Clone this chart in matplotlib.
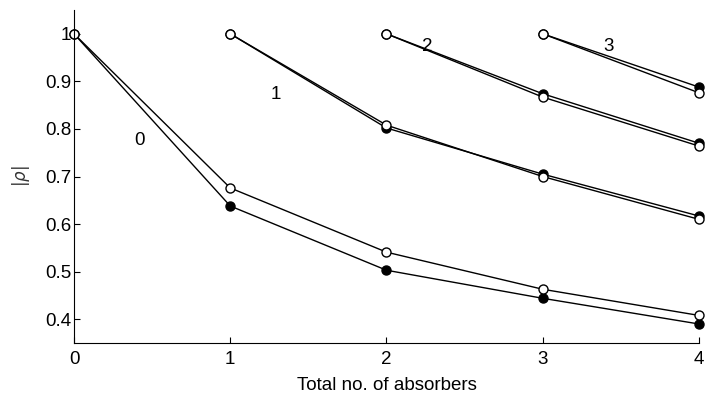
import matplotlib.pyplot as plt

plt.rcParams['font.family'] = ['Liberation Sans', 'DejaVu Sans']
plt.rcParams['font.size'] = 13.5

# curves start at x = n with |rho| = 1 ; filled and open markers
starts = [0, 1, 2, 3]
filled = [
    [1.0, 0.638, 0.503, 0.444, 0.390],
    [1.0, 0.802, 0.705, 0.617],
    [1.0, 0.874, 0.770],
    [1.0, 0.888],
]
opened = [
    [1.0, 0.676, 0.541, 0.463, 0.408],
    [1.0, 0.808, 0.700, 0.610],
    [1.0, 0.867, 0.764],
    [1.0, 0.876],
]
labels = ['0', '1', '2', '3']
label_pos = [(0.42, 0.775), (1.29, 0.872), (2.26, 0.973), (3.42, 0.973)]

fig = plt.figure(figsize=(7.15, 4.01), dpi=100)
ax = fig.add_axes([0.1035, 0.1446, 0.8741, 0.8304])

for s, yf, yo in zip(starts, filled, opened):
    xs = list(range(s, s + len(yf)))
    ax.plot(xs, yf, '-o', color='black', lw=1, ms=6.5, mfc='black', mec='black', mew=1, clip_on=False)
    ax.plot(xs, yo, '-o', color='black', lw=1, ms=6.5, mfc='white', mec='black', mew=1, clip_on=False)

for lab, (lx, ly) in zip(labels, label_pos):
    ax.text(lx, ly, lab, ha='center', va='center')

ax.set_xlim(0, 4)
ax.set_ylim(0.35, 1.05)
ax.set_xticks([0, 1, 2, 3, 4])
ax.set_yticks([0.4, 0.5, 0.6, 0.7, 0.8, 0.9, 1.0])
ax.set_yticklabels(['0.4', '0.5', '0.6', '0.7', '0.8', '0.9', '1'])
ax.tick_params(direction='in', length=4, width=0.8)
ax.tick_params(axis='y', pad=2)
ax.tick_params(axis='x', pad=6)
for side in ['top', 'right']:
    ax.spines[side].set_visible(False)
ax.set_xlabel('Total no. of absorbers', labelpad=6)
ax.set_ylabel(r'$|\rho|$', labelpad=9, color='#333333', fontsize=12)

fig.savefig('out.png', dpi=100)
